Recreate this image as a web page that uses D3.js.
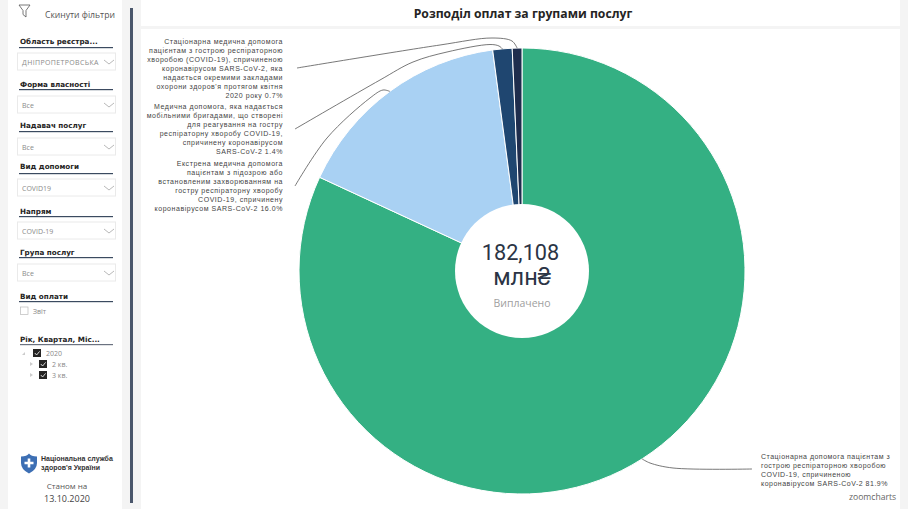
<!DOCTYPE html>
<html>
<head>
<meta charset="utf-8">
<script src="https://d3js.org/d3.v7.min.js"></script>
<style>
body { margin: 0; background: #f4f4f4; overflow: hidden; }
svg { opacity: 0.999; }
text { font-family: "Liberation Sans", Arial, sans-serif; }
.hdr { font-family: "DejaVu Sans", sans-serif; font-weight: bold; font-size: 7.2px; fill: #252423; }
.val { font-family: "Open Sans", sans-serif; font-size: 7px; fill: #8a8a8a; }
.lbl { font-size: 7px; fill: #444; }
</style>
</head>
<body>
<svg id="chart" width="908" height="509"></svg>
<script>
// pie values, percent of the total
const groups = ["inpatient", "emergency", "mobile", "separate"];
const shares = [81.9, 16.0, 1.4, 0.7];
const colors = ["#34b083", "#a9d1f3", "#1f4670", "#1f2d4d"];

const labelLines = [
    ["Стаціонарна допомога пацієнтам з", "гострою респіраторною хворобою", "COVID-19, спричиненою", "коронавірусом SARS-CoV-2 81.9%"],
    ["Екстрена медична допомога", "пацієнтам з підозрою або", "встановленим захворюванням на", "гостру респіраторну хворобу", "COVID-19, спричинену", "коронавірусом SARS-CoV-2 16.0%"],
    ["Медична допомога, яка надається", "мобільними бригадами, що створені", "для реагування на гостру", "респіраторну хворобу COVID-19,", "спричинену коронавірусом", "SARS-CoV-2 1.4%"],
    ["Стаціонарна медична допомога", "пацієнтам з гострою респіраторною", "хворобою (COVID-19), спричиненою", "коронавірусом SARS-CoV-2, яка", "надається окремими закладами", "охорони здоров'я протягом квітня", "2020 року 0.7%"]
];

const filterNames = ["Область реєстра...", "Форма власності", "Надавач послуг", "Вид допомоги", "Напрям", "Група послуг"];
const filterValues = ["ДНІПРОПЕТРОВСЬКА", "Все", "Все", "COVID19", "COVID-19", "Все"];
const treeItems = ["2020", "2 кв.", "3 кв."];

const svg = d3.select("#chart");

// ---- background panels
svg.append("rect").attr("x", 0).attr("y", 0).attr("width", 908).attr("height", 509).attr("fill", "#f4f4f4");
svg.append("rect").attr("x", 8).attr("y", 0).attr("width", 114).attr("height", 509).attr("fill", "#fff");
svg.append("rect").attr("x", 130).attr("y", 8).attr("width", 3).attr("height", 495).attr("fill", "#4a566b");
svg.append("rect").attr("x", 141).attr("y", 0).attr("width", 759).attr("height", 26).attr("fill", "#fff");
svg.append("rect").attr("x", 141).attr("y", 29).attr("width", 759).attr("height", 480).attr("fill", "#fff");

svg.append("text").attr("x", 523).attr("y", 18).attr("text-anchor", "middle")
    .style("font-family", "'Open Sans', sans-serif").style("font-weight", "bold").style("font-size", "12.2px")
    .attr("fill", "#252423").text("Розподіл оплат за групами послуг");

// ---- pie
const cx = 522, cy = 271, outerR = 223, innerR = 67;
const pieData = d3.pie().sort(null)(shares);
const arc = d3.arc().innerRadius(0).outerRadius(outerR);
const g = svg.append("g").attr("transform", "translate(" + cx + "," + cy + ")");

g.selectAll("path")
    .data(pieData)
    .enter()
    .append("path")
    .attr("d", arc)
    .attr("fill", (d, i) => colors[i])
    .attr("stroke", "#fff")
    .attr("stroke-width", 1);

g.append("circle").attr("r", innerR).attr("fill", "#fff");

const total = g.append("text").attr("text-anchor", "middle")
    .style("font-family", "Roboto, sans-serif").attr("fill", "#2b3445");
total.append("tspan").attr("x", -1.5).attr("y", -11).style("font-size", "21.7px").text("182,108");
total.append("tspan").attr("x", 0).attr("y", 14).style("font-size", "23.5px").text("млн₴");
g.append("text").attr("text-anchor", "middle").attr("y", 36)
    .style("font-family", "'Open Sans', sans-serif").style("font-size", "10.5px").attr("fill", "#a0a0a0").text("Виплачено");

// ---- leader lines, from the middle of each slice out to its label
const leaderWays = [
    [[650, 463], [673, 468], [752, 469]],
    [[383, 90], [370, 98], [327, 138], [295, 186]],
    [[499, 46], [490, 44.5], [447, 52], [413, 62], [380, 80], [295, 129]],
    [[512, 41], [492, 38], [440, 45], [297, 68]]
];
const leader = d3.line().curve(d3.curveCatmullRom.alpha(0.5));
pieData.forEach((d, i) => {
    const mid = (d.startAngle + d.endAngle) / 2;
    const start = [cx + outerR * Math.sin(mid), cy - outerR * Math.cos(mid)];
    svg.append("path")
        .attr("d", leader([start].concat(leaderWays[i])))
        .attr("fill", "none")
        .attr("stroke", "#555")
        .attr("stroke-width", 0.8);
});

// ---- slice labels
const labelPos = [
    { x: 761, y: 458.5, anchor: "start", spacing: 0.5 },
    { x: 283, y: 166, anchor: "end", spacing: 0.55 },
    { x: 283, y: 109, anchor: "end", spacing: 0.55 },
    { x: 283, y: 43.5, anchor: "end", spacing: 0.55 }
];
labelLines.forEach((lines, i) => {
    svg.append("g").selectAll("text")
        .data(lines)
        .enter()
        .append("text")
        .attr("class", "lbl")
        .attr("x", labelPos[i].x)
        .attr("y", (d, k) => labelPos[i].y + k * 9.05)
        .attr("text-anchor", labelPos[i].anchor)
        .style("letter-spacing", labelPos[i].spacing + "px")
        .text(d => d);
});

svg.append("text").attr("x", 849).attr("y", 500)
    .style("font-family", "'Open Sans', sans-serif").style("font-size", "8.6px").attr("fill", "#666").text("zoomcharts");

// ---- side bar
const sb = svg.append("g");
const filterIcon = "M19 5H30L26 10.5V17L23 14.5V10.5Z";
sb.append("path").attr("d", filterIcon).attr("fill", "none").attr("stroke", "#555").attr("stroke-width", 0.8);
sb.append("text").attr("x", 45).attr("y", 18).style("font-family", "'Open Sans', sans-serif")
    .style("font-size", "8.6px").attr("fill", "#555").text("Скинути фільтри");

const headerY = [44, 87, 128, 169, 214, 255];
const ruleY = [47, 89, 131, 173, 216, 257];
const boxY = [53, 96, 138, 179, 222, 264];
filterNames.forEach((name, i) => {
    sb.append("text").attr("class", "hdr").attr("x", 20).attr("y", headerY[i]).text(name);
    sb.append("rect").attr("x", 19).attr("y", ruleY[i]).attr("width", 94).attr("height", 1.2).attr("fill", "#3b4a60");
    sb.append("rect").attr("x", 17.5).attr("y", boxY[i]).attr("width", 98).attr("height", 17)
        .attr("fill", "#fff").attr("stroke", "#eaeaea");
    sb.append("text").attr("class", "val").attr("x", 22).attr("y", boxY[i] + 11.5)
        .style("letter-spacing", i === 0 ? "0.35px" : null).text(filterValues[i]);
    sb.append("path").attr("d", "M" + 104 + " " + (boxY[i] + 7) + "l5 4l5 -4")
        .attr("fill", "none").attr("stroke", "#999").attr("stroke-width", 0.7);
});

sb.append("text").attr("class", "hdr").attr("x", 20).attr("y", 299).text("Вид оплати");
sb.append("rect").attr("x", 19).attr("y", 301).attr("width", 94).attr("height", 1.2).attr("fill", "#3b4a60");
sb.append("rect").attr("x", 20.5).attr("y", 307).attr("width", 7.5).attr("height", 7.5).attr("fill", "#fff").attr("stroke", "#bbb").attr("stroke-width", 0.7);
sb.append("text").attr("class", "val").attr("x", 33).attr("y", 313.5).text("Звіт");

sb.append("text").attr("class", "hdr").attr("x", 20).attr("y", 342).text("Рік, Квартал, Міс...");
sb.append("rect").attr("x", 20).attr("y", 344).attr("width", 93).attr("height", 1.2).attr("fill", "#6b7280");

const treeX = [33, 39, 39], treeRow = [349, 360, 371];
treeItems.forEach((item, i) => {
    sb.append("rect").attr("x", treeX[i]).attr("y", treeRow[i]).attr("width", 8).attr("height", 8).attr("fill", "#252423");
    sb.append("path").attr("d", "M" + (treeX[i] + 1.8) + " " + (treeRow[i] + 4) + "l1.8 2l3 -3.6")
        .attr("fill", "none").attr("stroke", "#fff").attr("stroke-width", 0.8);
    sb.append("text").attr("class", "val").attr("x", treeX[i] + 13).attr("y", treeRow[i] + 7).text(item);
    sb.append("path").attr("d", i === 0 ? "M22 355l3 -3v3z" : "M30 " + (treeRow[i] + 2) + "l3 2l-3 2z").attr("fill", "#ccc");
});

// logo and date
sb.append("path").attr("d", "M21 456.5Q27 456.5 29 453.5Q31 456.5 37 456.5V463Q37 469.5 29 473.5Q21 469.5 21 463Z").attr("fill", "#3d6fb4");
sb.append("path").attr("d", "M27.7 458.5H30.3V461.7H33.5V464.3H30.3V467.5H27.7V464.3H24.5V461.7H27.7Z").attr("fill", "#fff");
sb.append("text").attr("x", 41).attr("y", 460.5).style("font-family", "'Liberation Sans', sans-serif").style("font-weight", "bold").style("font-size", "7px").attr("fill", "#333").text("Національна служба");
sb.append("text").attr("x", 41).attr("y", 470).style("font-family", "'Liberation Sans', sans-serif").style("font-weight", "bold").style("font-size", "7px").attr("fill", "#333").text("здоров'я України");
sb.append("text").attr("x", 67).attr("y", 489).attr("text-anchor", "middle").style("font-family", "'Open Sans', sans-serif").style("font-size", "8px").attr("fill", "#555").text("Станом на");
sb.append("text").attr("x", 67).attr("y", 501.5).attr("text-anchor", "middle").style("font-family", "'Open Sans', sans-serif").style("font-size", "9px").attr("fill", "#444").text("13.10.2020");
</script>
</body>
</html>
